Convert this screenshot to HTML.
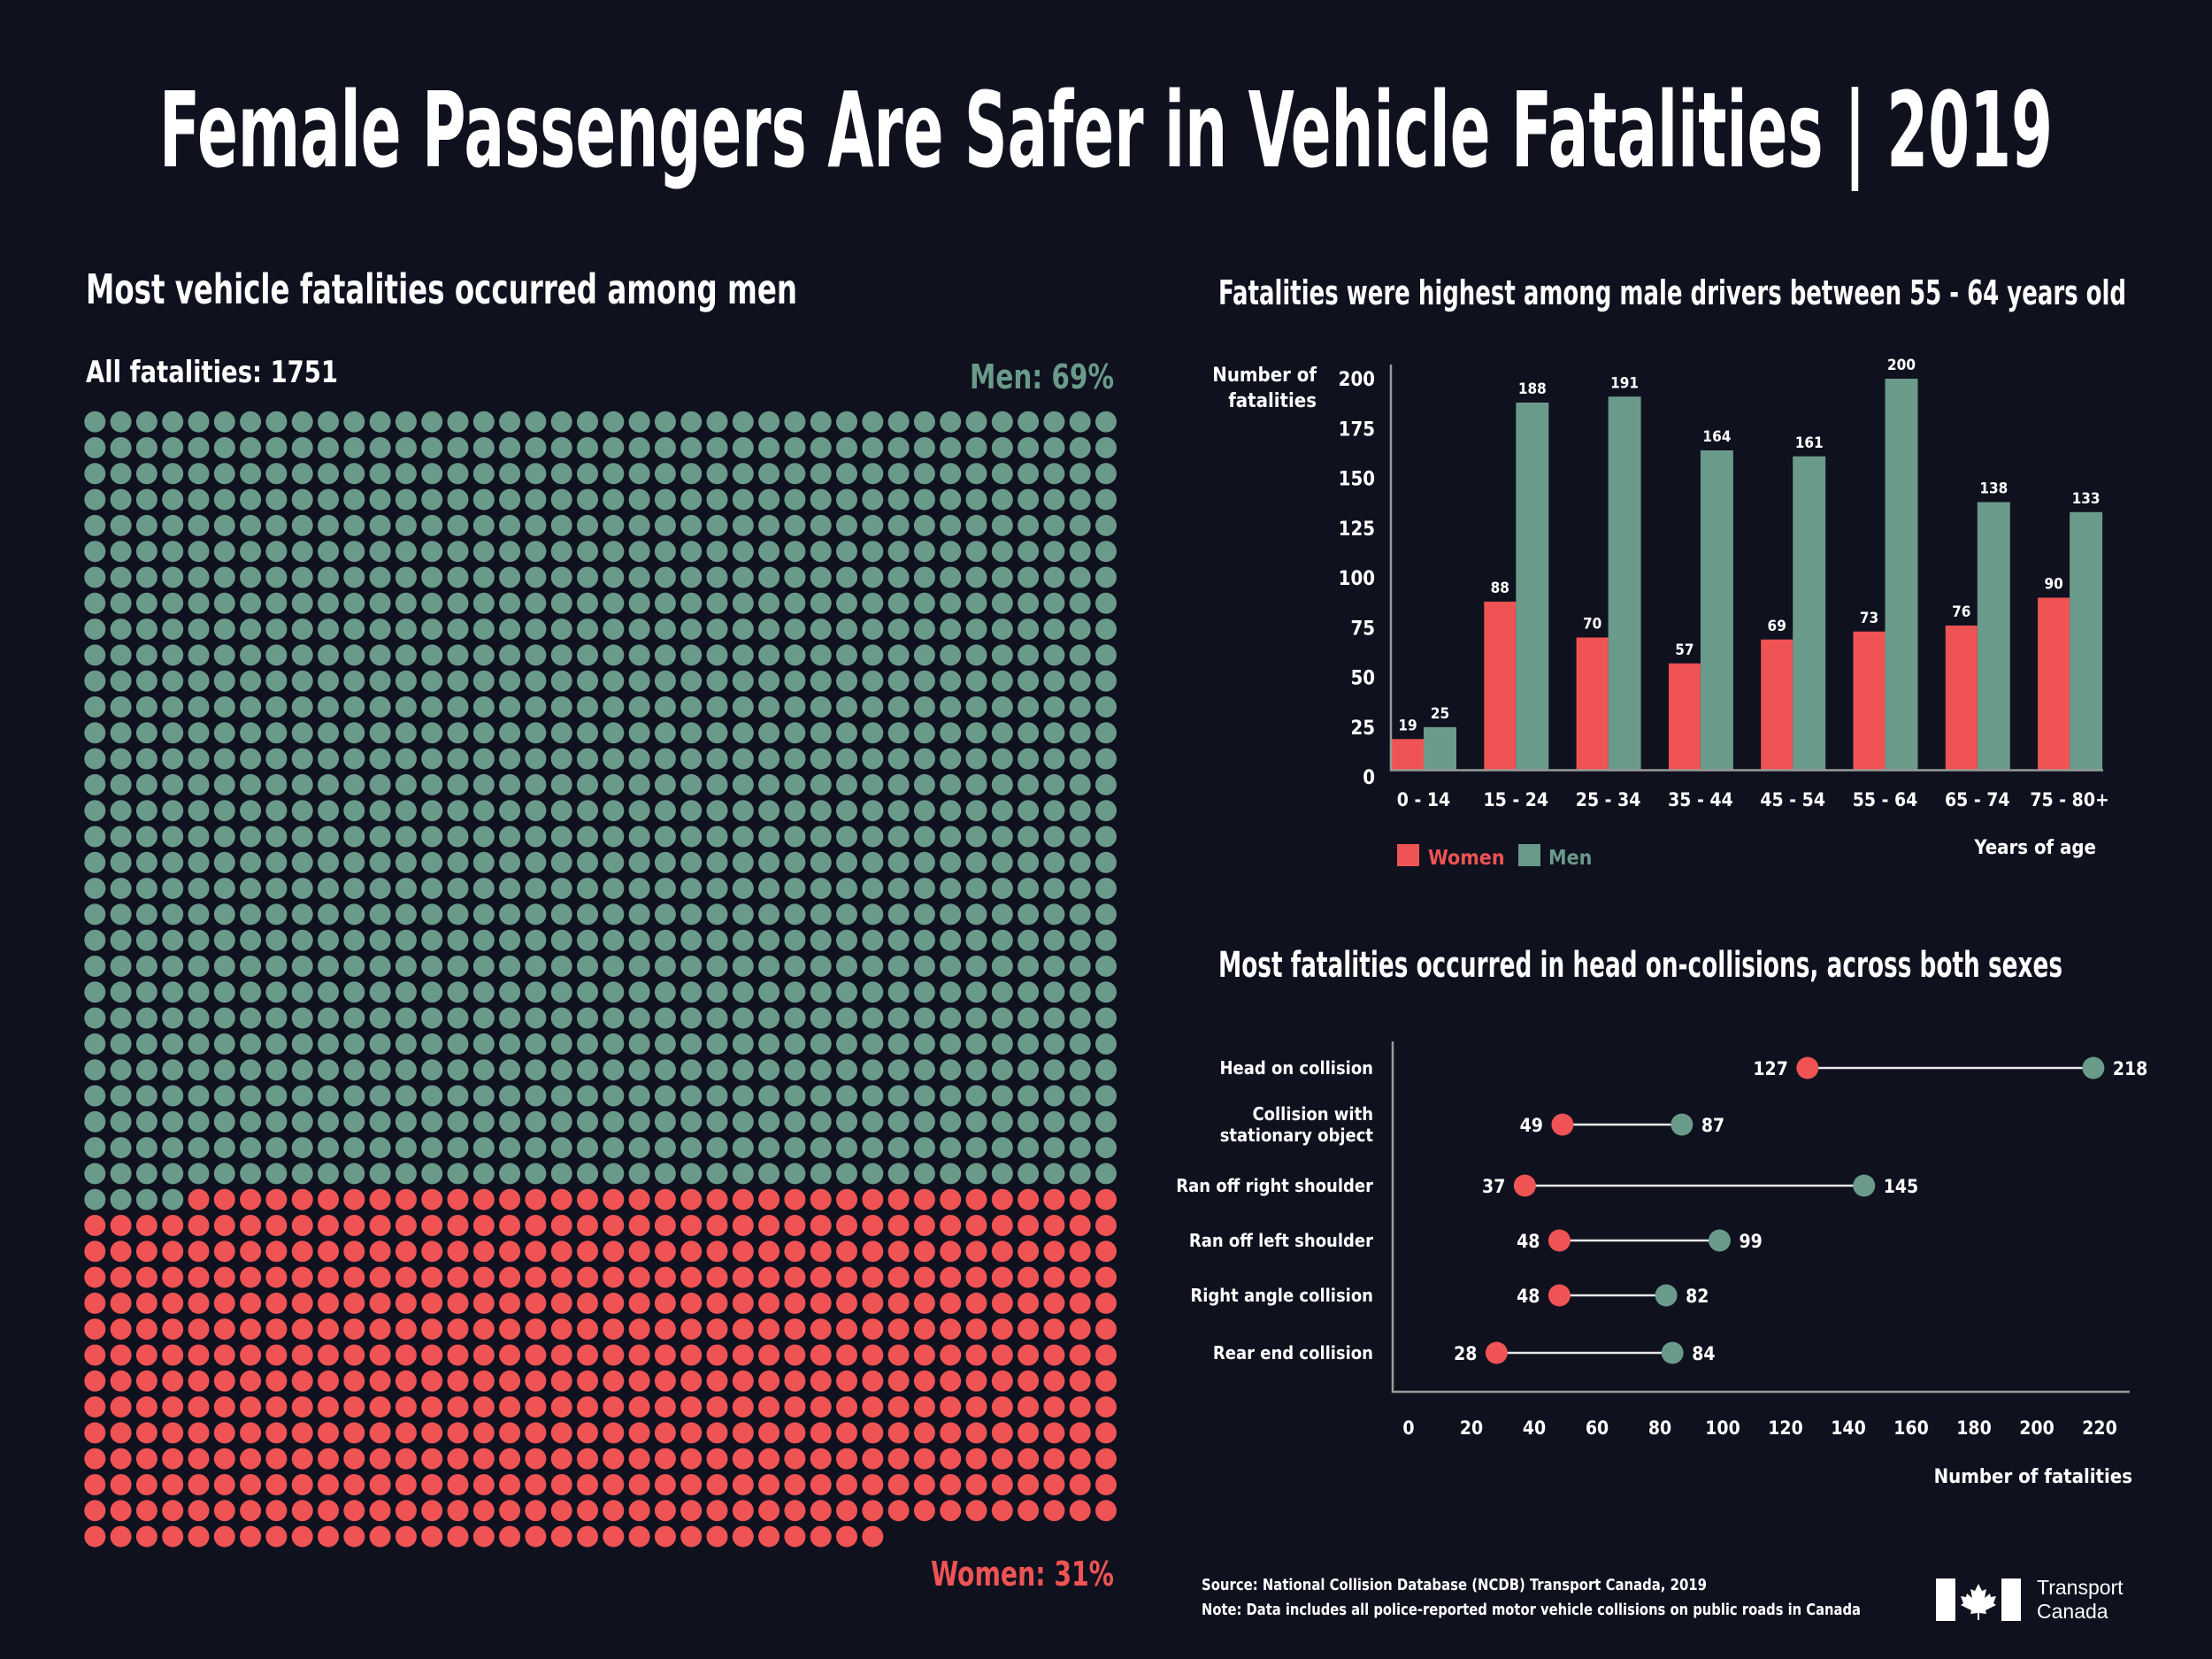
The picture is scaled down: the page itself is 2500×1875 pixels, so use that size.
<!DOCTYPE html>
<html><head><meta charset="utf-8">
<style>
html,body{margin:0;padding:0;background:#0f111f;}
svg{display:block;}
text{font-family:"DejaVu Sans Condensed","Liberation Sans Narrow","Liberation Sans",sans-serif;font-weight:bold;fill:#fff;}
</style></head>
<body>
<svg id="root" width="2500" height="1875" viewBox="0 0 2500 1875" xmlns="http://www.w3.org/2000/svg">
<rect width="2500" height="1875" fill="#0f111f"/>
<text x="180" y="188" font-size="118" textLength="2140" lengthAdjust="spacingAndGlyphs">Female Passengers Are Safer in Vehicle Fatalities | 2019</text>

<text x="97" y="343" font-size="46" textLength="804" lengthAdjust="spacingAndGlyphs">Most vehicle fatalities occurred among men</text>
<text x="97" y="432" font-size="34" textLength="285" lengthAdjust="spacingAndGlyphs">All fatalities: 1751</text>
<text x="1096" y="439" font-size="38" textLength="163" lengthAdjust="spacingAndGlyphs" style="fill:#6a9a8a">Men: 69%</text>
<text x="1052" y="1792" font-size="38" textLength="207" lengthAdjust="spacingAndGlyphs" style="fill:#ef5353">Women: 31%</text>
<g id="waffle"></g>

<text x="1377" y="344" font-size="38" textLength="1026" lengthAdjust="spacingAndGlyphs">Fatalities were highest among male drivers between 55 - 64 years old</text>
<text x="1488" y="431" font-size="22" text-anchor="end">Number of</text>
<text x="1488" y="460" font-size="22" text-anchor="end">fatalities</text>
<g id="bars"></g>
<rect x="1579" y="954" width="25" height="25" fill="#ef5353"/>
<text x="1614" y="977" font-size="23" style="fill:#ef5353">Women</text>
<rect x="1716" y="954" width="25" height="25" fill="#6a9a8a"/>
<text x="1750" y="977" font-size="23" style="fill:#6a9a8a">Men</text>
<text x="2369" y="965" font-size="22" text-anchor="end">Years of age</text>

<text x="1377" y="1104" font-size="40" textLength="954" lengthAdjust="spacingAndGlyphs">Most fatalities occurred in head on-collisions, across both sexes</text>
<g id="dumb"></g>
<text x="2410" y="1676" font-size="22" text-anchor="end">Number of fatalities</text>

<text x="1358" y="1797" font-size="18" textLength="571" lengthAdjust="spacingAndGlyphs">Source: National Collision Database (NCDB) Transport Canada, 2019</text>
<text x="1358" y="1825" font-size="18" textLength="745" lengthAdjust="spacingAndGlyphs">Note: Data includes all police-reported motor vehicle collisions on public roads in Canada</text>
<g>
<rect x="2188" y="1784" width="22" height="48" fill="#fff"/>
<rect x="2262" y="1784" width="22" height="48" fill="#fff"/>
<path d="M2236 1790 l4 8 5-2 -2 10 6-5 1 4 6-1 -3 8 3 2 -12 6 1 4 -8-1 0 8 -2 0 0-8 -8 1 1-4 -12-6 3-2 -3-8 6 1 1-4 6 5 -2-10 5 2z" fill="#fff"/>
<text x="2302" y="1802" font-size="23" style="font-family:'Liberation Sans',sans-serif;font-weight:normal">Transport</text>
<text x="2302" y="1829" font-size="23" style="font-family:'Liberation Sans',sans-serif;font-weight:normal">Canada</text>
</g>
</svg>
<script>
const NS='http://www.w3.org/2000/svg';
const GREEN='#6a9a8a', RED='#ef5353';
// waffle data
const waffleMen=1204;
const waffleWomen=547;
// bar data
const ageGroups=['0 - 14','15 - 24','25 - 34','35 - 44','45 - 54','55 - 64','65 - 74','75 - 80+'];
const womenByAge=[19,88,70,57,69,73,76,90];
const menByAge=[25,188,191,164,161,200,138,133];
const barTicks=[0,25,50,75,100,125,150,175,200];
// dumbbell data
const collisionTypes=[['Head on collision'],['Collision with','stationary object'],['Ran off right shoulder'],['Ran off left shoulder'],['Right angle collision'],['Rear end collision']];
const womenByType=[127,49,37,48,48,28];
const menByType=[218,87,145,99,82,84];
const dumbTicks=[0,20,40,60,80,100,120,140,160,180,200,220];

function mk(tag,attrs,parent){const e=document.createElementNS(NS,tag);for(const k in attrs)e.setAttribute(k,attrs[k]);parent.appendChild(e);return e;}

// waffle
const wg=document.getElementById('waffle');
const total=waffleMen+waffleWomen;
for(let i=0;i<total;i++){
  const c=i%40, r=Math.floor(i/40);
  const d=mk('circle',{cx:107.3+c*29.3,cy:476.7+r*29.3,r:12,fill:i<waffleMen?GREEN:RED},wg);
  
  
}

// bar chart
const bg=document.getElementById('bars');
const yB=v=>878-2.25*v;
const base=870;
const gx=i=>1609+i*104.3;
barTicks.forEach(t=>{
  const e=mk('text',{x:1554,y:yB(t)+8,'font-size':22,'text-anchor':'end'},bg);e.textContent=t;
  
  
});
ageGroups.forEach((g,i)=>{
  const w=mk('rect',{x:gx(i)-36,y:yB(womenByAge[i]),width:36,height:base-yB(womenByAge[i]),fill:RED},bg);
  
  
  const m=mk('rect',{x:gx(i),y:yB(menByAge[i]),width:37,height:base-yB(menByAge[i]),fill:GREEN},bg);
  
  
  const lw=mk('text',{x:gx(i)-18,y:yB(womenByAge[i])-10,'font-size':17,'text-anchor':'middle'},bg);lw.textContent=womenByAge[i];
  
  
  const lm=mk('text',{x:gx(i)+18.5,y:yB(menByAge[i])-10,'font-size':17,'text-anchor':'middle'},bg);lm.textContent=menByAge[i];
  
  
  const xl=mk('text',{x:gx(i),y:911,'font-size':21,'text-anchor':'middle'},bg);xl.textContent=g;
  
  
});
const ax1=mk('path',{d:'M1572 412 V870.5 H2377',stroke:'#9a9a9a','stroke-width':2.5,fill:'none'},bg);



// dumbbell
const dg=document.getElementById('dumb');
const xD=v=>1592+3.55*v;
const rowY=[1207,1271,1340,1402,1464,1529];
const ax2=mk('path',{d:'M1574 1177 V1573 H2407',stroke:'#9a9a9a','stroke-width':2.5,fill:'none'},dg);


dumbTicks.forEach(t=>{
  const e=mk('text',{x:xD(t),y:1621,'font-size':21,'text-anchor':'middle'},dg);e.textContent=t;
  
  
});
collisionTypes.forEach((lab,i)=>{
  const y=rowY[i];
  lab.forEach((ln,j)=>{
    const t=mk('text',{x:1552,y:y+7+(lab.length>1?(j-0.5)*24:0),'font-size':20,'text-anchor':'end'},dg);t.textContent=ln;
    
    
  });
  const l=mk('line',{x1:xD(womenByType[i]),x2:xD(menByType[i]),y1:y,y2:y,stroke:'#e8e8e8','stroke-width':2.5},dg);
  
  
  const cw=mk('circle',{cx:xD(womenByType[i]),cy:y,r:12.5,fill:RED},dg);
  
  
  const cm=mk('circle',{cx:xD(menByType[i]),cy:y,r:12.5,fill:GREEN},dg);
  
  
  const tw=mk('text',{x:xD(womenByType[i])-22,y:y+8,'font-size':21,'text-anchor':'end'},dg);tw.textContent=womenByType[i];
  
  
  const tm=mk('text',{x:xD(menByType[i])+22,y:y+8,'font-size':21},dg);tm.textContent=menByType[i];
  
  
});
</script>
</body></html>
